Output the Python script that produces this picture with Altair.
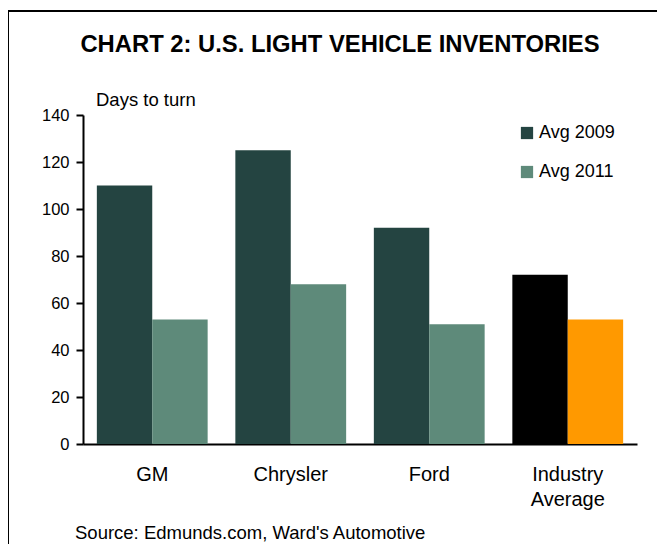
import altair as alt
import pandas as pd

categories = ["GM", "Chrysler", "Ford", "Industry Average"]
avg_2009 = [110, 125, 92, 72]
avg_2011 = [53, 68, 51, 53]
series = ["Avg 2009", "Avg 2011"]
color_keys = ["Avg 2009", "Avg 2011", "Industry 2009", "Industry 2011"]
color_values = ["#244441", "#5E8A7A", "#000000", "#FF9900"]
title_text = "CHART 2: U.S. LIGHT VEHICLE INVENTORIES"
unit_text = "Days to turn"
source_text = "Source: Edmunds.com, Ward's Automotive"
y_ticks = [0, 20, 40, 60, 80, 100, 120, 140]

rows = []
for c, v9, v11 in zip(categories, avg_2009, avg_2011):
    ind = c == "Industry Average"
    rows.append({"cat": c, "series": "Avg 2009", "value": v9,
                 "ckey": "Industry 2009" if ind else "Avg 2009"})
    rows.append({"cat": c, "series": "Avg 2011", "value": v11,
                 "ckey": "Industry 2011" if ind else "Avg 2011"})
df = pd.DataFrame(rows)

FONT = "Liberation Sans"
W, H = 554, 329

bars = alt.Chart(df).mark_bar().encode(
    x=alt.X("cat:N", sort=categories, title=None,
            scale=alt.Scale(paddingInner=0.2, paddingOuter=0.1),
            axis=alt.Axis(labelAngle=0, ticks=False, domainColor="#000000", domainWidth=2,
                          labelFontSize=20, labelFont=FONT, labelColor="#000000",
                          labelPadding=20, labelLineHeight=25, labelBaseline="top",
                          labelExpr="datum.value == 'Industry Average' ? ['Industry', 'Average'] : datum.value")),
    xOffset=alt.XOffset("series:N", sort=series, scale=alt.Scale(paddingInner=0, paddingOuter=0)),
    y=alt.Y("value:Q", title=None,
            scale=alt.Scale(domain=[0, 140], nice=False),
            axis=alt.Axis(values=y_ticks, grid=False, domainColor="#000000", domainWidth=2,
                          tickColor="#000000", tickWidth=2, tickSize=7, labelPadding=7,
                          labelFontSize=16.5, labelFont=FONT, labelColor="#000000")),
    color=alt.Color("ckey:N", title=None,
                    scale=alt.Scale(domain=color_keys, range=color_values),
                    legend=alt.Legend(values=series, orient="none", legendX=435, legendY=9,
                                      symbolType="square", symbolSize=150, symbolStrokeWidth=0,
                                      labelFontSize=18, labelFont=FONT, labelColor="#000000",
                                      rowPadding=21, labelOffset=3, padding=0)),
)

def txt(t, x, y, size, bold=False, align="left"):
    return alt.Chart(pd.DataFrame({"t": [t]})).mark_text(
        font=FONT, fontSize=size, fontWeight="bold" if bold else "normal",
        align=align, baseline="middle", color="#000000"
    ).encode(x=alt.value(x), y=alt.value(y), text="t:N")

title = txt(title_text, 257, -70, 23.8, bold=True, align="center")
unit = txt(unit_text, 13, -15, 18.5)
source = txt(source_text, -8, 418, 18.5)

frame_top = alt.Chart(pd.DataFrame({"a": [0]})).mark_rule(color="#000000", strokeWidth=2).encode(
    x=alt.value(-76), x2=alt.value(700), y=alt.value(-104))
frame_left = alt.Chart(pd.DataFrame({"a": [0]})).mark_rule(color="#000000", strokeWidth=2).encode(
    x=alt.value(-75), y=alt.value(-105), y2=alt.value(700))

chart = alt.layer(bars, title, unit, source, frame_top, frame_left).properties(
    width=W, height=H,
    autosize=alt.AutoSizeParams(type="none"),
    padding={"left": 75, "top": 107, "right": 20, "bottom": 100},
    background="#FFFFFF",
).configure_view(stroke=None)

chart.save("out.html", embed_options={"renderer": "svg", "actions": False})
